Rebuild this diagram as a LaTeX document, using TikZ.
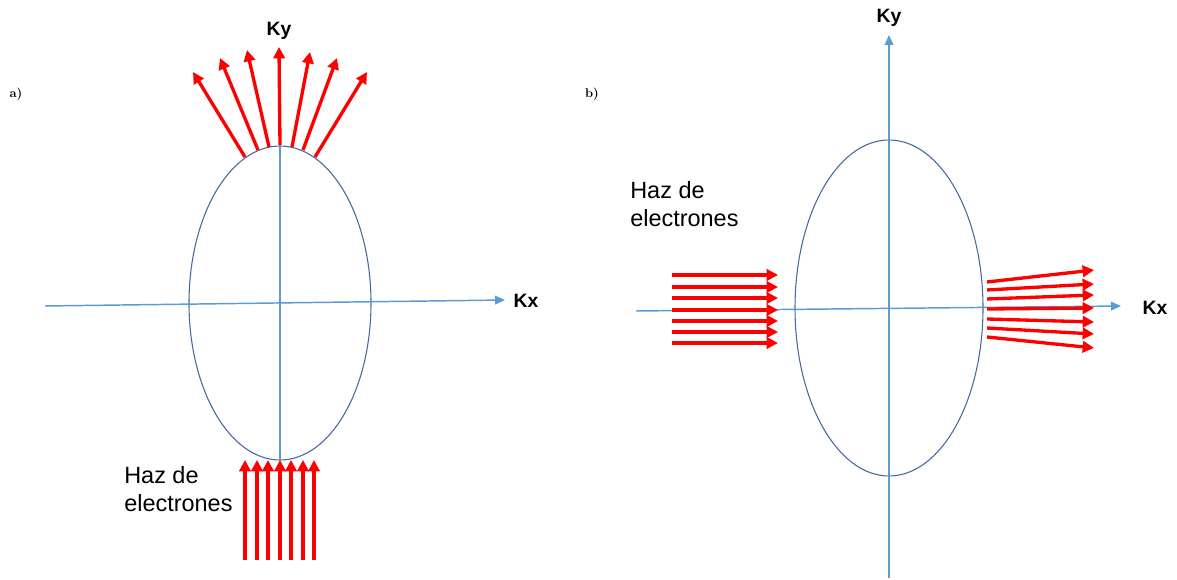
\documentclass[tikz,border=0pt]{standalone}
\usepackage{fontspec}
\newfontfamily\arialf{Liberation Sans}
\usetikzlibrary{arrows.meta}
\definecolor{axisblue}{HTML}{5B9BD5}
\definecolor{ellblue}{HTML}{44699A}
\tikzset{
  axisline/.style={draw=axisblue,line width=1.1pt,-{Triangle[length=7.5pt,width=6.5pt]}},
  ellline/.style={draw=ellblue,line width=0.8pt},
  beam/.style={draw=red,line width=2.5pt,-{Triangle[length=8.5pt,width=8.5pt]}},
  axlabel/.style={font=\arialf\bfseries\fontsize{14.5}{16}\selectfont,inner sep=0pt},
  hazlabel/.style={font=\arialf\fontsize{17.6}{21}\selectfont,align=left,inner sep=0pt,anchor=north west},
  panel/.style={font=\fontsize{9.5}{11}\selectfont\bfseries,inner sep=0pt}
}
\begin{document}
\begin{tikzpicture}[x=0.75pt,y=-0.75pt]
\useasboundingbox (0,0) rectangle (1177,580);
% ---------- panel a ----------
\node[panel] (la) at (16,94) {a)};
\coordinate (ca) at (280,303);
\draw[ellline] (ca) ellipse [x radius=91, y radius=157];
\draw[axisline] (45,306) -- (505,300);
\draw[axisblue,line width=1.1pt] (280,460) -- (280,52);
\node[axlabel] (kxa) at (526,301) {Kx};
\node[axlabel] (kya) at (279,31) {Ky};
% scattered beams
\foreach \sx/\sy/\ex/\ey in {245/157/193/72, 258/150/220/58, 269/147/247/50, 280/145/279/47, 292/147/310/52, 303/150/337/58, 315/157/367/72}
  \draw[beam] (\sx,\sy) -- (\ex,\ey);
% incoming beams
\foreach \bx in {245,257,268,280,291,303,314}
  \draw[beam] (\bx,560) -- (\bx,460);
\node[hazlabel] (haza) at (124,466) {Haz de\\electrones};
% ---------- panel b ----------
\node[panel] (lb) at (592,94) {b)};
\coordinate (cb) at (889,308);
\draw[ellline] (cb) ellipse [x radius=94, y radius=168];
\draw[axisline] (636,311) -- (1121,306);
\draw[axisline] (889,578) -- (889,35);
\node[axlabel] (kxb) at (1155,308) {Kx};
\node[axlabel] (kyb) at (889,18) {Ky};
% incoming beams
\foreach \by in {275,287,298,310,321,332,343}
  \draw[beam] (672,\by) -- (778,\by);
% scattered beams
\foreach \sy/\ey in {282/270, 290/284, 299/295, 309/308, 319/322, 328/334, 337/348}
  \draw[beam] (987,\sy) -- (1094,\ey);
\node[hazlabel] (hazb) at (630,181) {Haz de\\electrones};
\end{tikzpicture}
\end{document}
